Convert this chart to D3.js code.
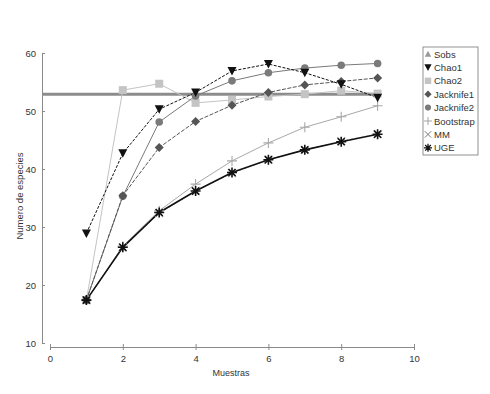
<!DOCTYPE html>
<html><head><meta charset="utf-8">
<script src="https://cdn.jsdelivr.net/npm/d3@7"></script>
<style>body{margin:0;background:#fff}svg{display:block}text{font-family:"Liberation Sans",Arial,sans-serif;fill:#333}</style>
</head><body><svg id="c" width="490" height="394"></svg>
<script>
const samples = [1,2,3,4,5,6,7,8,9];
const sobs = 52.9;
const chao1 = [28.9,42.7,50.3,53.2,56.9,58.1,56.6,54.6,52.3];
const chao2 = [17.4,53.6,54.7,51.4,51.9,52.5,52.9,53.5,53.0];
const jack1 = [17.4,35.4,43.7,48.2,51.0,53.2,54.5,55.1,55.7];
const jack2 = [17.4,35.3,48.1,52.6,55.2,56.6,57.4,57.9,58.2];
const boot  = [17.4,26.7,32.8,37.4,41.4,44.5,47.2,49.0,50.9];
const mm    = [17.4,26.5,32.4,36.2,39.3,41.6,43.3,44.8,46.0];
const uge   = [17.4,26.5,32.5,36.2,39.4,41.6,43.3,44.7,46.0];
const xTicks = [0,2,4,6,8,10];
const yTicks = [10,20,30,40,50,60];
const names = ["Sobs","Chao1","Chao2","Jacknife1","Jacknife2","Bootstrap","MM","UGE"];

const svg = d3.select("#c");
const x = d3.scaleLinear().domain([0,10]).range([50,414]);
const y = d3.scaleLinear().domain([10,60]).range([343,53]);
const axisC = "#8a8a8a";

const ya = svg.append("g").attr("transform","translate(42,0)")
  .call(d3.axisLeft(y).tickValues(yTicks).tickSizeInner(3).tickSizeOuter(0).tickPadding(3));
ya.selectAll(".tick line").attr("x2",3);
const xa = svg.append("g").attr("transform","translate(0,347)")
  .call(d3.axisBottom(x).tickValues(xTicks).tickSizeInner(3).tickSizeOuter(0).tickPadding(5));
xa.selectAll(".tick line").attr("y1",-3);
[ya,xa].forEach(g=>{
  g.select(".domain").attr("stroke",axisC);
  g.selectAll(".tick line").attr("stroke",axisC);
  g.selectAll("text").attr("font-size",9.5).attr("fill","#333").attr("font-family","Liberation Sans, Arial");
});

svg.append("text").attr("x",231).attr("y",376).attr("text-anchor","middle").attr("font-size",9).text("Muestras");
svg.append("text").attr("transform","translate(23,196) rotate(-90)").attr("text-anchor","middle").attr("font-size",9.5).text("Numero de especies");

const line = d3.line().x((d,i)=>x(samples[i])).y(d=>y(d));

svg.append("line").attr("x1",43).attr("x2",x(9)+2).attr("y1",y(sobs)).attr("y2",y(sobs))
  .attr("stroke","#8c8c8c").attr("stroke-width",3);

const series = [
  {n:"Chao2", v:chao2, c:"#c4c4c4", w:1, dash:null, sym:"square"},
  {n:"Bootstrap", v:boot, c:"#a8a8a8", w:1, dash:null, sym:"plus"},
  {n:"MM", v:mm, c:"#9a9a9a", w:1, dash:"3,2", sym:"x"},
  {n:"Jacknife2", v:jack2, c:"#7a7a7a", w:1, dash:null, sym:"circle"},
  {n:"Jacknife1", v:jack1, c:"#555", w:1, dash:"4,1.5", sym:"diamond"},
  {n:"Chao1", v:chao1, c:"#111", w:1, dash:"3,1.5", sym:"tri"},
  {n:"UGE", v:uge, c:"#111", w:1.6, dash:null, sym:"star"}
];

function drawSym(g, sym, cx, cy, c){
  if(sym==="square") g.append("rect").attr("x",cx-4).attr("y",cy-4).attr("width",8).attr("height",8).attr("fill",c);
  else if(sym==="circle") g.append("circle").attr("cx",cx).attr("cy",cy).attr("r",3.8).attr("fill",c);
  else if(sym==="diamond") g.append("path").attr("d",`M${cx},${cy-4.5}L${cx+4.5},${cy}L${cx},${cy+4.5}L${cx-4.5},${cy}Z`).attr("fill",c);
  else if(sym==="tri") g.append("path").attr("d",`M${cx-4.5},${cy-4}L${cx+4.5},${cy-4}L${cx},${cy+4.5}Z`).attr("fill",c);
  else if(sym==="triup") g.append("path").attr("d",`M${cx-4},${cy+3.5}L${cx+4},${cy+3.5}L${cx},${cy-4}Z`).attr("fill",c);
  else if(sym==="plus") g.append("path").attr("d",`M${cx-5},${cy}H${cx+5}M${cx},${cy-5}V${cy+5}`).attr("stroke",c).attr("stroke-width",1.1).attr("fill","none");
  else if(sym==="x") g.append("path").attr("d",`M${cx-4},${cy-4}L${cx+4},${cy+4}M${cx-4},${cy+4}L${cx+4},${cy-4}`).attr("stroke",c).attr("stroke-width",1.2).attr("fill","none");
  else if(sym==="star"){
    let d="";
    for(let k=0;k<4;k++){const a=k*Math.PI/4, r=5;
      d+=`M${cx-r*Math.cos(a)},${cy-r*Math.sin(a)}L${cx+r*Math.cos(a)},${cy+r*Math.sin(a)}`;}
    g.append("path").attr("d",d).attr("stroke",c).attr("stroke-width",1.6).attr("fill","none");
  }
}

series.forEach(s=>{
  svg.append("path").datum(s.v).attr("d",line).attr("fill","none").attr("stroke",s.c)
    .attr("stroke-width",s.w).attr("stroke-dasharray",s.dash);
});
series.forEach(s=>{
  const g = svg.append("g");
  s.v.forEach((v,i)=>drawSym(g,s.sym,x(samples[i]),y(v),s.c));
});

const lg = svg.append("g");
lg.append("rect").attr("x",423).attr("y",47).attr("width",55).attr("height",108)
  .attr("fill","#fff").attr("stroke","#777").attr("stroke-width",0.8);
const legSym = {Sobs:["triup","#999"],Chao1:["tri","#111"],Chao2:["square","#c4c4c4"],Jacknife1:["diamond","#555"],
  Jacknife2:["circle","#7a7a7a"],Bootstrap:["plus","#999"],MM:["x","#777"],UGE:["star","#111"]};
names.forEach((n,i)=>{
  const cy = 54 + i*13.4;
  const [sy,c] = legSym[n];
  const g = lg.append("g").attr("transform",`translate(428,${cy}) scale(0.8) translate(-428,${-cy})`);
  drawSym(g,sy,428,cy,c);
  lg.append("text").attr("x",434).attr("y",cy+3.5).attr("font-size",9.5).text(n);
});
</script></body></html>
